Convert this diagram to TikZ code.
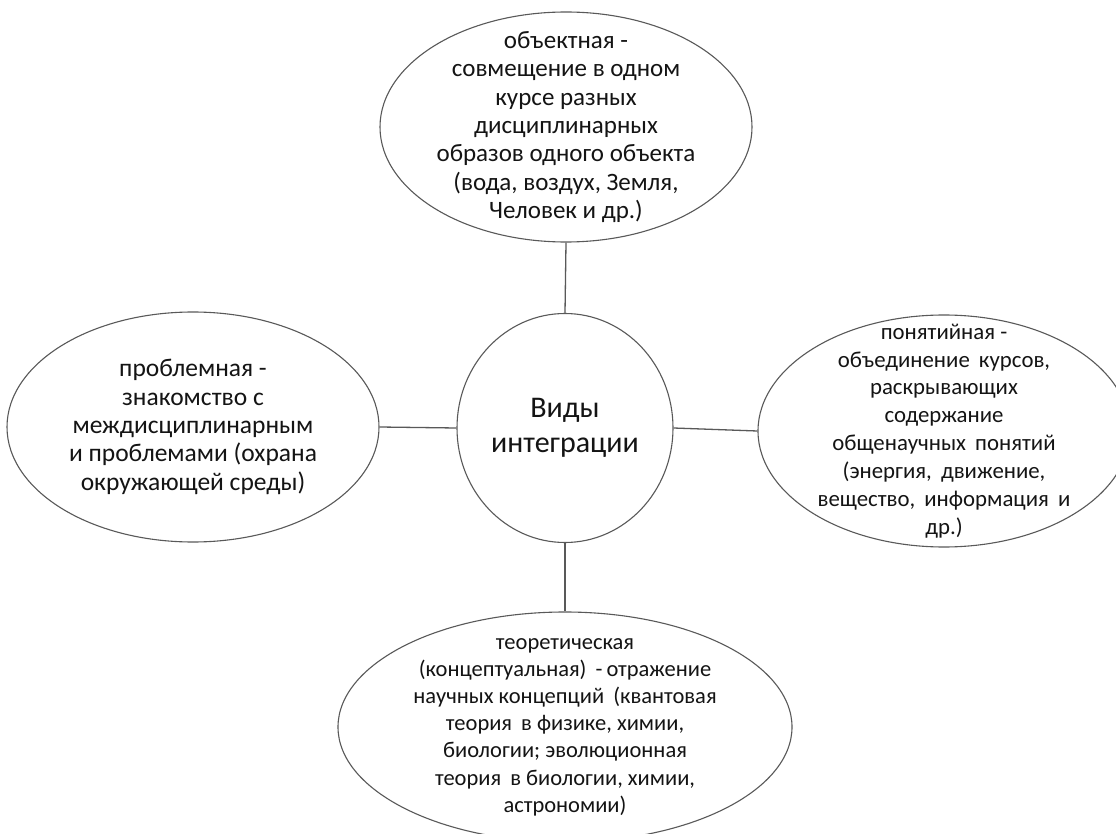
\documentclass[tikz,border=0pt]{standalone}
\usepackage{fontspec}
\setmainfont{Carlito}
\usetikzlibrary{shapes.geometric}
\newcommand{\gap}{\hspace{4pt}}
\begin{document}
\begin{tikzpicture}[x=1pt,y=-1pt,
  oval/.style={draw=black!65, line width=1.1pt, ellipse, inner sep=0pt},
  txt/.style={align=center, text=black!92, inner sep=0pt, font=\fontsize{25}{28.3}\selectfont},
  link/.style={draw=black!65, line width=1.3pt}]
\clip (0,0) rectangle (1116,834);
\fill[white] (0,0) rectangle (1116,834);
\node[oval, minimum width=216, minimum height=229,
  label={[txt, font=\fontsize{30}{35}\selectfont]center:{Виды\\интеграции}}] (c) at (565,428) {};
\node[oval, minimum width=372, minimum height=230,
  label={[txt]center:{объектная -\\совмещение в одном\\курсе разных\\дисциплинарных\\образов одного объекта\\(вода, воздух, Земля,\\Человек и др.)}}] (t) at (566,127) {};
\node[oval, minimum width=372, minimum height=230,
  label={[txt, font=\fontsize{25.5}{28.3}\selectfont]center:{проблемная -\\знакомство с\\междисциплинарным\\и проблемами (охрана\\окружающей среды)}}] (l) at (193,427) {};
\node[oval, minimum width=372, minimum height=232,
  label={[txt, font=\fontsize{22.8}{27.9}\selectfont]center:{понятийная -\\объединение\gap{} курсов,\\раскрывающих\\содержание\\общенаучных\gap{} понятий\\(энергия,\gap{} движение,\\вещество,\gap{} информация\gap{} и\\др.)}}] (r) at (944,431) {};
\node[oval, minimum width=454, minimum height=230,
  label={[txt, font=\fontsize{22.5}{27.2}\selectfont]center:{теоретическая\\(концептуальная)\gap{} -\gap{}отражение\\научных концепций\gap{} (квантовая\\теория\gap{} в физике, химии,\\биологии; эволюционная\\теория\gap{} в биологии, химии,\\астрономии)}}] (b) at (565,727) {};
\draw[link] (t.south) -- (c.north);
\draw[link] (l.east) -- (c.west);
\draw[link] (c.east) -- (r.west);
\draw[link] (c.south) -- (b.north);
\end{tikzpicture}
\end{document}
